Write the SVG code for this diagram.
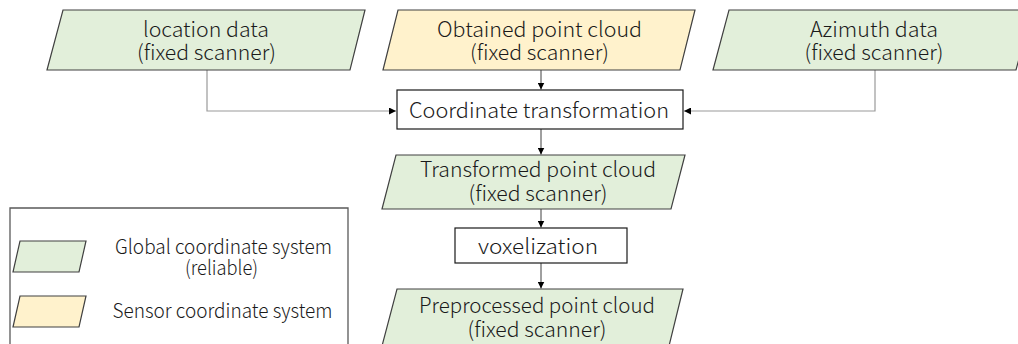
<svg xmlns="http://www.w3.org/2000/svg" width="1018" height="344" viewBox="0 0 1018 344">
<style>
.t{font-family:"Noto Sans CJK JP","Noto Sans",sans-serif;font-size:21px;font-weight:300;fill:#1a1a1a;text-anchor:middle}
.lg{font-size:20px}
.green{fill:#e2efda;stroke:#404040;stroke-width:1.2}
.yellow{fill:#fff2cc;stroke:#404040;stroke-width:1.2}
.box{fill:#ffffff;stroke:#1a1a1a;stroke-width:1.2}
.cg{fill:none;stroke:#9a9a9a;stroke-width:1.2}
.cd{fill:none;stroke:#404040;stroke-width:1}
</style>
<defs>
<marker id="ah" viewBox="0 0 10 10" refX="10" refY="5" markerWidth="7" markerHeight="7" markerUnits="userSpaceOnUse" orient="auto">
<path d="M0,0 L10,5 L0,10 z" fill="#000"/>
</marker>
</defs>
<rect width="1018" height="344" fill="#ffffff"/>
<g id="connectors">
<polyline class="cg" points="207,70 207,111 396,111" marker-end="url(#ah)"/>
<polyline class="cg" points="875,70 875,111 684,111" marker-end="url(#ah)"/>
<line class="cd" x1="541" y1="70" x2="541" y2="89.5" marker-end="url(#ah)"/>
<line class="cd" x1="541" y1="129" x2="541" y2="154.5" marker-end="url(#ah)"/>
<line class="cd" x1="541" y1="209" x2="541" y2="227.5" marker-end="url(#ah)"/>
<line class="cd" x1="541" y1="263" x2="541" y2="288.5" marker-end="url(#ah)"/>
</g>
<g id="location">
<polygon class="green" points="63,10 365,10 350,70 47,70"/>
<text class="t" x="206" y="36.5" textLength="126" lengthAdjust="spacingAndGlyphs">location data</text>
<text class="t" x="206.5" y="60" textLength="139" lengthAdjust="spacingAndGlyphs">(fixed scanner)</text>
</g>
<g id="obtained">
<polygon class="yellow" points="398,10 695,10 680,70 383,70"/>
<text class="t" x="539.5" y="36.5" textLength="205" lengthAdjust="spacingAndGlyphs">Obtained point cloud</text>
<text class="t" x="539.5" y="60" textLength="139" lengthAdjust="spacingAndGlyphs">(fixed scanner)</text>
</g>
<g id="azimuth">
<polygon class="green" points="729,10 1032,10 1016,70 713,70"/>
<text class="t" x="874" y="36.5" textLength="128" lengthAdjust="spacingAndGlyphs">Azimuth data</text>
<text class="t" x="874" y="60" textLength="139" lengthAdjust="spacingAndGlyphs">(fixed scanner)</text>
</g>
<g id="coord">
<rect class="box" x="397" y="90" width="286" height="39"/>
<text class="t" x="539" y="118" textLength="260" lengthAdjust="spacingAndGlyphs">Coordinate transformation</text>
</g>
<g id="transformed">
<polygon class="green" points="396,155 685,155 671,209 382,209"/>
<text class="t" x="538" y="177" textLength="236" lengthAdjust="spacingAndGlyphs">Transformed point cloud</text>
<text class="t" x="538" y="201" textLength="139" lengthAdjust="spacingAndGlyphs">(fixed scanner)</text>
</g>
<g id="voxel">
<rect class="box" x="455" y="228" width="172" height="35"/>
<text class="t" x="538" y="254" textLength="120" lengthAdjust="spacingAndGlyphs">voxelization</text>
</g>
<g id="preprocessed">
<polygon class="green" points="397,289 683,289 669,346 382,346"/>
<text class="t" x="537" y="312.5" textLength="236" lengthAdjust="spacingAndGlyphs">Preprocessed point cloud</text>
<text class="t" x="537" y="336.5" textLength="139" lengthAdjust="spacingAndGlyphs">(fixed scanner)</text>
</g>
<g id="legend">
<polyline fill="none" stroke="#595959" stroke-width="1.3" points="10,350 10,208 348,208 348,350"/>
<polygon class="green" points="20,241 86,241 79,272 13,272"/>
<text class="t lg" x="223.5" y="254" textLength="217" lengthAdjust="spacingAndGlyphs">Global coordinate system</text>
<text class="t lg" x="221.5" y="275" textLength="73" lengthAdjust="spacingAndGlyphs">(reliable)</text>
<polygon class="yellow" points="20,296 86,296 79,327 13,327"/>
<text class="t lg" x="222.5" y="318" textLength="220" lengthAdjust="spacingAndGlyphs">Sensor coordinate system</text>
</g>
</svg>
